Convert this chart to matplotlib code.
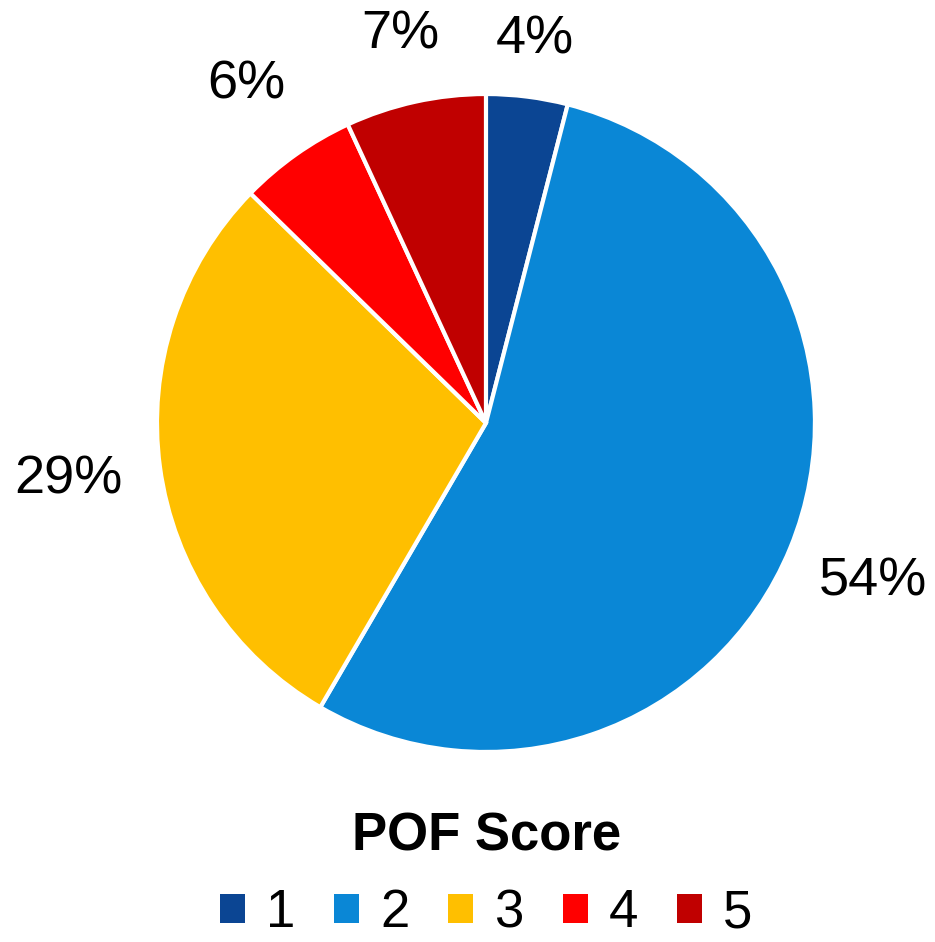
import matplotlib
matplotlib.use("Agg")
import matplotlib.pyplot as plt
from matplotlib.patches import Patch
import numpy as np

plt.rcParams['font.family'] = ['Liberation Sans', 'DejaVu Sans']

categories = ["1", "2", "3", "4", "5"]
values = [4.0, 54.4, 28.9, 5.8, 6.9]
colors = ["#0B4593", "#0A87D6", "#FFBF00", "#FF0000", "#C00000"]
legend_title = "POF Score"

fig = plt.figure(figsize=(9.35, 9.42), dpi=100)
ax = fig.add_axes([0.1679, 0.2017, 0.7037, 0.6985])
wedges, texts = ax.pie(values, colors=colors, startangle=90, counterclock=False,
                       wedgeprops=dict(edgecolor="white", linewidth=3),
                       radius=1.0)
ax.set_xlim(-1, 1)
ax.set_ylim(-1, 1)
ax.set_aspect('equal')

total = sum(values)
cum = 0
dists = [1.175, 1.27, 1.28, 1.26, 1.21]
for v, d in zip(values, dists):
    mid = 90 - (cum + v / 2) / total * 360
    cum += v
    th = np.deg2rad(mid)
    ax.text(d * np.cos(th), d * np.sin(th), f"{round(v / total * 100)}%",
            ha="center", va="center", fontsize=39, clip_on=False)

handles = [Patch(facecolor=c, edgecolor="none") for c in colors]
leg = fig.legend(handles, categories, loc="center", bbox_to_anchor=(0.52, 0.071),
                 ncol=5, frameon=False, fontsize=38, title=legend_title,
                 title_fontproperties=dict(weight="bold", size=38),
                 handlelength=0.47, handleheight=0.47, handletextpad=0.4,
                 columnspacing=0.74, borderpad=0.2)
fig.savefig("out.png", dpi=100)
